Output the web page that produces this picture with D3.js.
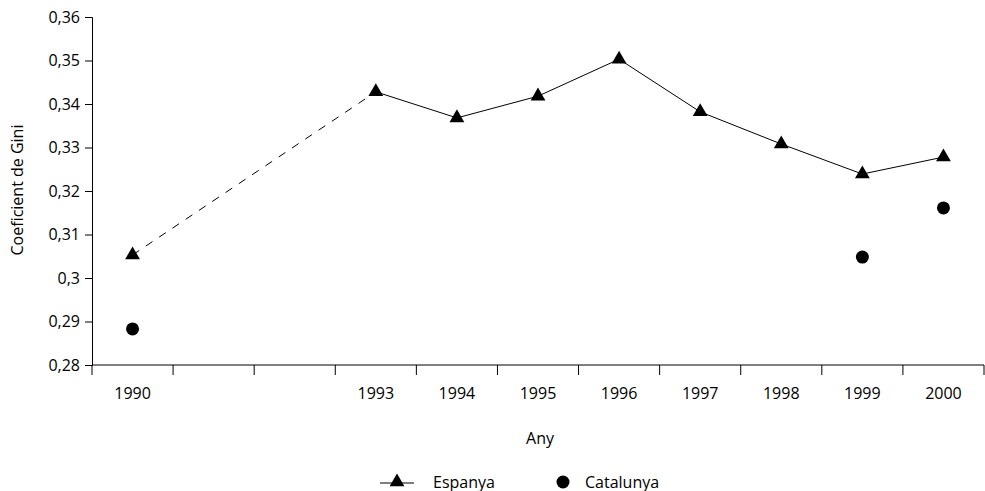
<!DOCTYPE html>
<html>
<head>
	<meta charset="utf-8">
	<script src="https://d3js.org/d3.v7.min.js"></script>
	<style>
		body { margin: 0; background: #fff; }
		text { font-family: "Open Sans", "Noto Sans", sans-serif; fill: #000; }
		.axis path, .axis line { stroke: #000; stroke-width: 1; }
	</style>
</head>
<body>
<svg width="985" height="491"></svg>

<script type="text/javascript">
// slots on the x axis (two blank ones between 1990 and 1993)
var slots = ['1990', 's1', 's2', '1993', '1994', '1995', '1996', '1997', '1998', '1999', '2000'];
var tickLabels = ['1990', '', '', '1993', '1994', '1995', '1996', '1997', '1998', '1999', '2000'];
var yTicks = [0.28, 0.29, 0.30, 0.31, 0.32, 0.33, 0.34, 0.35, 0.36];

var espanyaYears = ['1990', '1993', '1994', '1995', '1996', '1997', '1998', '1999', '2000'];
var espanyaValues = [0.3053, 0.3428, 0.3368, 0.3418, 0.3503, 0.3382, 0.3308, 0.3239, 0.3278];

var catalunyaYears = ['1990', '1999', '2000'];
var catalunyaValues = [0.2883, 0.3048, 0.3161];

var svg = d3.select('svg');
var mLeft = 92, mRight = 984, mTop = 17, mBottom = 365;
var fontSize = '16px';

var x = d3.scaleBand().domain(slots).range([mLeft, mRight]);
var y = d3.scaleLinear().domain([0.28, 0.36]).range([mBottom, mTop]);

// y axis
svg.append('g')
	.attr('class', 'axis')
	.attr('transform', 'translate(' + mLeft + ',0)')
	.call(d3.axisLeft(y).tickValues(yTicks).tickSize(7).tickPadding(5)
		.tickFormat(function(d) {
			return d3.format('.2~f')(d).replace('.', ',');
		}))
	.selectAll('text')
	.style('font-size', fontSize)
	.style('font-family', '"Open Sans", sans-serif');

// x axis: ticks between bands
var xAxis = svg.append('g')
	.attr('class', 'axis')
	.attr('transform', 'translate(0,' + mBottom + ')');
xAxis.append('line')
	.attr('x1', mLeft).attr('x2', mRight)
	.attr('y1', 0).attr('y2', 0);
xAxis.selectAll('line.tick')
	.data(slots.concat(['end']))
	.enter()
	.append('line')
	.attr('class', 'tick')
	.attr('x1', function(d, i) { return mLeft + i * x.step(); })
	.attr('x2', function(d, i) { return mLeft + i * x.step(); })
	.attr('y1', 0).attr('y2', 10);
xAxis.selectAll('text')
	.data(slots)
	.enter()
	.append('text')
	.attr('x', function(d) { return x(d) + x.bandwidth() / 2; })
	.attr('y', 34)
	.attr('text-anchor', 'middle')
	.style('font-size', fontSize)
	.text(function(d, i) { return tickLabels[i]; });

// axis titles
svg.append('text')
	.attr('x', 540).attr('y', 444)
	.attr('text-anchor', 'middle')
	.style('font-size', fontSize)
	.text('Any');
svg.append('text')
	.attr('transform', 'translate(23,190) rotate(-90)')
	.attr('text-anchor', 'middle')
	.style('font-size', fontSize)
	.text('Coeficient de Gini');

var cx = function(yr) { return x(yr) + x.bandwidth() / 2; };
var esp = espanyaYears.map(function(d, i) { return {year: d, value: espanyaValues[i]}; });
var cat = catalunyaYears.map(function(d, i) { return {year: d, value: catalunyaValues[i]}; });

var line = d3.line()
	.x(function(d) { return cx(d.year); })
	.y(function(d) { return y(d.value); });

// dashed gap segment, then solid line
svg.append('path')
	.datum(esp.slice(0, 2))
	.attr('d', line)
	.attr('fill', 'none')
	.attr('stroke', '#000')
	.attr('stroke-width', 1)
	.attr('stroke-dasharray', '8,8');
svg.append('path')
	.datum(esp.slice(1))
	.attr('d', line)
	.attr('fill', 'none')
	.attr('stroke', '#000')
	.attr('stroke-width', 1);

var tri = d3.symbol().type(d3.symbolTriangle).size(95);
svg.selectAll('path.esp')
	.data(esp)
	.enter()
	.append('path')
	.attr('class', 'esp')
	.attr('d', tri)
	.attr('transform', function(d) { return 'translate(' + cx(d.year) + ',' + y(d.value) + ')'; })
	.attr('fill', '#000');

svg.selectAll('circle.cat')
	.data(cat)
	.enter()
	.append('circle')
	.attr('class', 'cat')
	.attr('cx', function(d) { return cx(d.year); })
	.attr('cy', function(d) { return y(d.value); })
	.attr('r', 6.5)
	.attr('fill', '#000');

// legend
var lg = svg.append('g').attr('transform', 'translate(0,483)');
lg.append('line')
	.attr('x1', 380).attr('x2', 414)
	.attr('y1', 0).attr('y2', 0)
	.attr('stroke', '#000');
lg.append('path')
	.attr('d', tri)
	.attr('transform', 'translate(397,-1)')
	.attr('fill', '#000');
lg.append('text')
	.attr('x', 433).attr('y', 5)
	.style('font-size', fontSize)
	.text('Espanya');
lg.append('circle')
	.attr('cx', 563).attr('cy', -1)
	.attr('r', 6.5)
	.attr('fill', '#000');
lg.append('text')
	.attr('x', 585).attr('y', 5)
	.style('font-size', fontSize)
	.text('Catalunya');
</script>
</body>
</html>
